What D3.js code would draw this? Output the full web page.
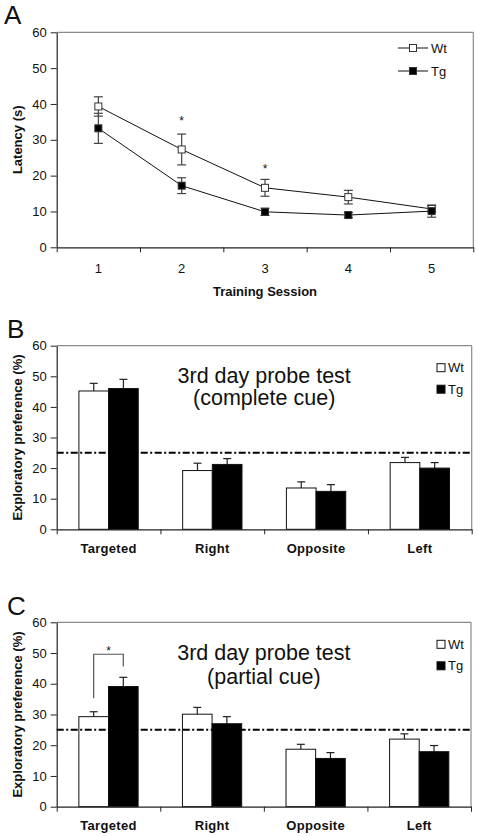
<!DOCTYPE html>
<html><head><meta charset="utf-8">
<script src="https://cdn.jsdelivr.net/npm/d3@7"></script>
<style>
body{margin:0;background:#fff}
svg{display:block}
text{font-family:"Liberation Sans",Arial,Helvetica,sans-serif;fill:#111}
</style>
</head><body>
<svg id="chart" width="478" height="836"></svg>
<script>
// ---------- DATA ----------
const sessions = ["1","2","3","4","5"];
const wtLatency = [39.3, 27.3, 16.6, 14.0, 10.7];
const wtLatencyErr = [2.7, 4.3, 2.35, 1.9, 0.8];
const tgLatency = [33.2, 17.2, 9.9, 9.0, 10.1];
const tgLatencyErr = [4.2, 2.2, 1.0, 0.7, 1.7];
const latencyStars = [null, 36, 22.8, null, null];
const yTicks = [0, 10, 20, 30, 40, 50, 60];

const quadrants = ["Targeted", "Right", "Opposite", "Left"];
const groups = ["Wt", "Tg"];
const completeWt = [45.2, 19.2, 13.5, 21.8];
const completeWtErr = [2.5, 2.4, 2.0, 1.7];
const completeTg = [46.0, 21.2, 12.4, 20.0];
const completeTgErr = [3.0, 1.9, 2.2, 1.8];
const partialWt = [29.3, 30.1, 18.7, 22.0];
const partialWtErr = [1.6, 2.2, 1.6, 1.7];
const partialTg = [39.1, 27.0, 15.7, 17.9];
const partialTgErr = [3.0, 2.3, 1.9, 2.0];
const chanceLevel = 25;
const partialBracket = [35.3, 49.6, 45.6]; // Wt leg end, bracket top, Tg leg end
const partialStar = 51.5;

// ---------- HELPERS ----------
const svg = d3.select("#chart");
const AX = "#222", FRAME = "#8a8a8a", ERR = "#444";

function frame(g, L, R, T, B) {
  g.append("line").attr("x1", L).attr("x2", R).attr("y1", T).attr("y2", T)
    .attr("stroke", FRAME).attr("stroke-width", 1.2);
  g.append("line").attr("x1", R).attr("x2", R).attr("y1", T).attr("y2", B)
    .attr("stroke", FRAME).attr("stroke-width", 1.2);
}
function yAxis(g, y, L) {
  const a = g.append("g").attr("transform", `translate(${L},0)`)
    .call(d3.axisLeft(y).tickValues(yTicks).tickSize(6).tickSizeOuter(0).tickPadding(4));
  a.select(".domain").attr("stroke", AX).attr("stroke-width", 1.2);
  a.selectAll(".tick line").attr("stroke", AX);
  a.selectAll("text").style("font-size", "13px").attr("fill", "#111");
}
function xAxis(g, xBand, n, L, R, B, pad, bold) {
  const edge = d3.scaleLinear().domain([0, n]).range([L, R]);
  const a = g.append("g").attr("transform", `translate(0,${B})`)
    .call(d3.axisBottom(edge).tickValues(d3.range(n + 1)).tickFormat("").tickSize(5).tickSizeOuter(0));
  a.select(".domain").attr("stroke", AX).attr("stroke-width", 1.2);
  a.selectAll(".tick line").attr("stroke", AX);
  const b = g.append("g").attr("transform", `translate(0,${B})`)
    .call(d3.axisBottom(xBand).tickSize(0).tickPadding(pad));
  b.select(".domain").remove();
  b.selectAll("text").style("font-size", "13px").style("font-weight", bold ? "bold" : "normal")
    .style("letter-spacing", bold ? "0.3px" : "0px").attr("fill", "#111");
}
function panelLabel(t, x, y) {
  svg.append("text").attr("x", x).attr("y", y).text(t).style("font-size", "26px");
}
function yTitle(t, x, yc) {
  svg.append("text").attr("transform", `translate(${x},${yc}) rotate(-90)`)
    .attr("text-anchor", "middle").style("font-size", "13px").style("font-weight", "bold").text(t);
}

// ---------- PANEL A ----------
(function () {
  const L = 56.7, R = 473.3, T = 32.3, B = 247.3;
  const g = svg.append("g");
  const x = d3.scaleBand().domain(sessions).range([L, R]);
  const y = d3.scaleLinear().domain([0, 60]).range([B, T]);
  frame(g, L, R, T, B);
  yAxis(g, y, L);
  xAxis(g, x, sessions.length, L, R, B, 16, false);
  const cx = s => x(s) + x.bandwidth() / 2;
  const series = [
    { v: wtLatency, e: wtLatencyErr, fill: "#fff" },
    { v: tgLatency, e: tgLatencyErr, fill: "#000" }
  ];
  series.forEach(s => {
    sessions.forEach((k, i) => {
      const x0 = cx(k), y1 = y(s.v[i] + s.e[i]), y2 = y(s.v[i] - s.e[i]);
      g.append("line").attr("x1", x0).attr("x2", x0).attr("y1", y1).attr("y2", y2).attr("stroke", ERR).attr("stroke-width", 1.2);
      [y1, y2].forEach(yy => g.append("line").attr("x1", x0 - 4.5).attr("x2", x0 + 4.5).attr("y1", yy).attr("y2", yy).attr("stroke", ERR).attr("stroke-width", 1.2));
    });
  });
  series.forEach(s => {
    g.append("path").datum(sessions.map((k, i) => [cx(k), y(s.v[i])]))
      .attr("d", d3.line()).attr("fill", "none").attr("stroke", "#111").attr("stroke-width", 1);
  });
  series.forEach(s => {
    sessions.forEach((k, i) => {
      g.append("rect").attr("x", cx(k) - 3.5).attr("y", y(s.v[i]) - 3.5).attr("width", 7).attr("height", 7)
        .attr("fill", s.fill).attr("stroke", "#333").attr("stroke-width", 1);
    });
  });
  sessions.forEach((k, i) => {
    if (latencyStars[i] != null)
      g.append("text").attr("x", cx(k)).attr("y", y(latencyStars[i]) + 7).attr("text-anchor", "middle")
        .style("font-size", "12px").text("*");
  });
  // legend
  [["Wt", "#fff", 48], ["Tg", "#000", 71]].forEach(([t, f, yy]) => {
    g.append("line").attr("x1", 398).attr("x2", 428).attr("y1", yy).attr("y2", yy).attr("stroke", "#111");
    g.append("rect").attr("x", 413 - 3.5).attr("y", yy - 3.5).attr("width", 7).attr("height", 7).attr("fill", f).attr("stroke", "#333");
    g.append("text").attr("x", 431).attr("y", yy + 4.5).style("font-size", "13px").text(t);
  });
  panelLabel("A", 4, 24.3);
  yTitle("Latency (s)", 22, (T + B) / 2);
  svg.append("text").attr("x", (L + R) / 2).attr("y", 296).attr("text-anchor", "middle")
    .style("font-size", "13px").style("font-weight", "bold").text("Training Session");
})();

// ---------- PANELS B & C ----------
function barPanel(o) {
  const { L, R, T, B, wt, wtE, tg, tgE, lines, line2dy, label } = o;
  const g = svg.append("g");
  const x0 = d3.scaleBand().domain(quadrants).range([L, R]);
  const bw = x0.bandwidth();
  const x1 = d3.scaleBand().domain(groups).range([bw * 0.214, bw * 0.786]);
  const y = d3.scaleLinear().domain([0, 60]).range([B, T]);
  frame(g, L, R, T, B);
  const vals = { Wt: [wt, wtE, "#fff"], Tg: [tg, tgE, "#000"] };
  groups.forEach(k => {
    const [v, e, f] = vals[k];
    quadrants.forEach((q, i) => {
      const xl = x0(q) + x1(k), w = x1.bandwidth(), xc = xl + w / 2;
      const yt = y(v[i] + e[i]);
      g.append("line").attr("x1", xc).attr("x2", xc).attr("y1", y(v[i])).attr("y2", yt).attr("stroke", "#222").attr("stroke-width", 1.2);
      g.append("line").attr("x1", xc - 4).attr("x2", xc + 4).attr("y1", yt).attr("y2", yt).attr("stroke", "#222").attr("stroke-width", 1.2);
      g.append("rect").attr("x", xl).attr("y", y(v[i])).attr("width", w).attr("height", y(0) - y(v[i]))
        .attr("fill", f).attr("stroke", "#111").attr("stroke-width", 1);
    });
  });
  g.append("line").attr("x1", L).attr("x2", R).attr("y1", y(chanceLevel)).attr("y2", y(chanceLevel))
    .attr("stroke", "#000").attr("stroke-width", 2).attr("stroke-dasharray", "7,2.5,2,2.5");
  yAxis(g, y, L);
  xAxis(g, x0, quadrants.length, L, R, B, 14, true);
  const cxT = (L + R) / 2;
  g.append("text").attr("x", cxT).attr("y", T + 37.6).attr("text-anchor", "middle").style("font-size", "21.5px").text(lines[0]);
  g.append("text").attr("x", cxT).attr("y", T + 37.6 + line2dy).attr("text-anchor", "middle").style("font-size", "21.5px").text(lines[1]);
  [["Wt", "#fff", 18], ["Tg", "#000", 39.5]].forEach(([t, f, dy]) => {
    g.append("rect").attr("x", 437).attr("y", T + dy).attr("width", 8).attr("height", 8).attr("fill", f).attr("stroke", "#111");
    g.append("text").attr("x", 448).attr("y", T + dy + 8.5).style("font-size", "13px").text(t);
  });
  panelLabel(label, 7, T - 7.7);
  yTitle("Exploratory preference (%)", 22, (T + B) / 2);
  return { g, x0, x1, y };
}

barPanel({ L: 56.7, R: 471.7, T: 345.7, B: 529.3, wt: completeWt, wtE: completeWtErr, tg: completeTg, tgE: completeTgErr,
  lines: ["3rd day probe test", "(complete cue)"], line2dy: 21.7, label: "B" });

const pc = barPanel({ L: 56.7, R: 471, T: 622.3, B: 806.7, wt: partialWt, wtE: partialWtErr, tg: partialTg, tgE: partialTgErr,
  lines: ["3rd day probe test", "(partial cue)"], line2dy: 24, label: "C" });
(function () {
  const { g, x0, x1, y } = pc;
  const q = quadrants[0];
  const xa = x0(q) + x1("Wt") + x1.bandwidth() / 2, xb = x0(q) + x1("Tg") + x1.bandwidth() / 2;
  g.append("path").attr("d", `M${xa},${y(partialBracket[0])}V${y(partialBracket[1])}H${xb}V${y(partialBracket[2])}`)
    .attr("fill", "none").attr("stroke", "#555").attr("stroke-width", 1.2);
  g.append("text").attr("x", (xa + xb) / 2).attr("y", y(partialStar) + 7).attr("text-anchor", "middle")
    .style("font-size", "12px").text("*");
})();
</script>
</body></html>
